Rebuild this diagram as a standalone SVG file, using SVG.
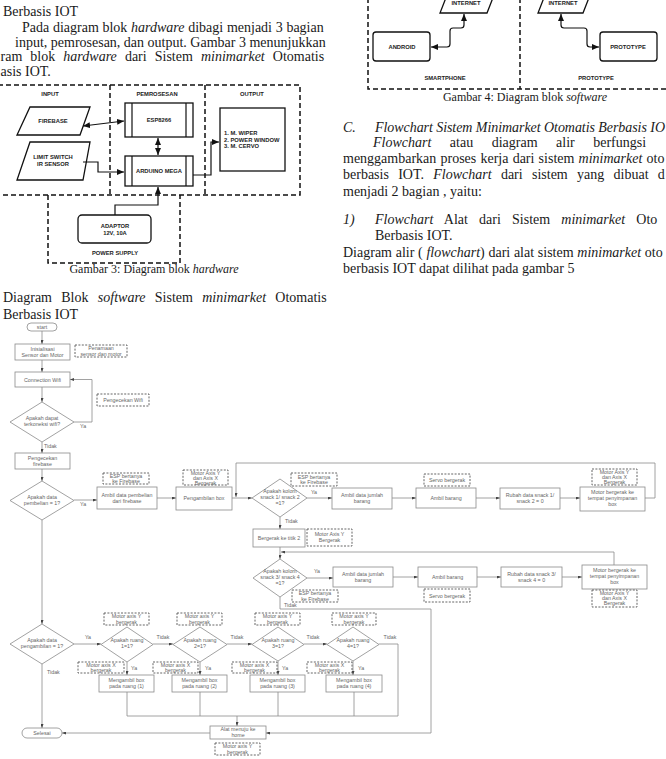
<svg xmlns="http://www.w3.org/2000/svg" width="666" height="759" viewBox="0 0 666 759">
<style>
.p{font-family:"Liberation Serif","Times New Roman",serif;font-size:14px;fill:#1a1a1a}
.i{font-style:italic}
.cap{font-family:"Liberation Serif","Times New Roman",serif;font-size:12px;fill:#1a1a1a;text-anchor:middle}
.hw{font-family:"Liberation Sans",Arial,sans-serif;font-size:5.8px;font-weight:bold;fill:#222;text-anchor:middle}
.hb{fill:#fff;stroke:#111;stroke-width:1.3}
.hd{fill:none;stroke:#111;stroke-width:1.5;stroke-dasharray:5 3}
.hl{fill:none;stroke:#111;stroke-width:1.2}
.ft{font-family:"Liberation Sans",Arial,sans-serif;font-size:5.3px;fill:#666;text-anchor:middle}
.fs{font-family:"Liberation Sans",Arial,sans-serif;font-size:5.3px;fill:#666}
.fb{fill:#fff;stroke:#8a8a8a;stroke-width:0.8}
.fn{fill:#fff;stroke:#555;stroke-width:0.9;stroke-dasharray:2 1.4}
.fl{fill:none;stroke:#8a8a8a;stroke-width:0.8}
</style>
<defs>
<marker id="ha" markerUnits="userSpaceOnUse" markerWidth="7" markerHeight="6" refX="7" refY="3" orient="auto-start-reverse"><path d="M0,0 L7,3 L0,6 z" fill="#111"/></marker>
<marker id="fa" markerUnits="userSpaceOnUse" markerWidth="4" markerHeight="3" refX="4" refY="1.5" orient="auto"><path d="M0,0 L4,1.5 L0,3 z" fill="#444"/></marker>
</defs>
<rect width="666" height="759" fill="#fff"/>

<!-- left column text -->
<g id="text-left">
<text class="p" x="3" y="16">Berbasis IOT</text>
<text class="p" x="22" y="32" word-spacing="0.2">Pada diagram blok <tspan class="i">hardware</tspan> dibagi menjadi 3 bagian</text>
<text class="p" x="15" y="46.5">input, pemrosesan, dan output. Gambar 3 menunjukkan</text>
<text class="p" x="0.5" y="61" word-spacing="4.6">ram blok <tspan class="i">hardware</tspan> dari Sistem <tspan class="i">minimarket</tspan> Otomatis</text>
<text class="p" x="0.5" y="76">asis IOT.</text>
<text class="cap" x="154" y="273">Gambar 3: Diagram blok <tspan class="i">hardware</tspan></text>
<text class="p" x="3" y="302" word-spacing="5.8">Diagram Blok <tspan class="i">software</tspan> Sistem <tspan class="i">minimarket</tspan> Otomatis</text>
<text class="p" x="3" y="319">Berbasis IOT</text>
</g>

<!-- right column text -->
<g id="text-right">
<text class="cap" x="525" y="100.5">Gambar 4: Diagram blok <tspan class="i">software</tspan></text>
<text class="p i" x="343" y="132">C.</text>
<text class="p i" x="375" y="132" textLength="290" lengthAdjust="spacing">Flowchart Sistem Minimarket Otomatis Berbasis IO</text>
<text class="p" x="373" y="147" word-spacing="15"><tspan class="i">Flowchart</tspan> atau diagram alir berfungsi</text>
<text class="p" x="343" y="163" word-spacing="0.7">menggambarkan proses kerja dari sistem <tspan class="i">minimarket</tspan> oto</text>
<text class="p" x="343" y="179" word-spacing="5.8">berbasis IOT. <tspan class="i">Flowchart</tspan> dari sistem yang dibuat d</text>
<text class="p" x="343" y="196">menjadi 2 bagian , yaitu:</text>
<text class="p i" x="343" y="224">1)</text>
<text class="p" x="375" y="224" word-spacing="7.7"><tspan class="i">Flowchart</tspan> Alat dari Sistem <tspan class="i">minimarket</tspan> Oto</text>
<text class="p" x="375" y="240">Berbasis IOT.</text>
<text class="p" x="343" y="257" word-spacing="0.2">Diagram alir ( <tspan class="i">flowchart</tspan>) dari alat sistem <tspan class="i">minimarket</tspan> oto</text>
<text class="p" x="343" y="273">berbasis IOT dapat dilihat pada gambar 5</text>
</g>

<!-- hardware block diagram -->
<g id="hw-frames">
<path class="hd" d="M-2,85 H300 V195 H-2"/>
<path class="hd" d="M110,85 V195"/>
<path class="hd" d="M205,85 V195"/>
<path class="hd" d="M48,195 V263 H180 V195"/>
<text class="hw" x="50" y="96">INPUT</text>
<text class="hw" x="157" y="96">PEMROSESAN</text>
<text class="hw" x="252" y="96">OUTPUT</text>
<text class="hw" x="115" y="255">POWER SUPPLY</text>
</g>
<g id="hw-firebase"><polygon class="hb" points="30,107 90,107 80,135 17,135"/><text class="hw" x="53" y="123">FIREBASE</text></g>
<g id="hw-limit"><polygon class="hb" points="30,142 90,142 83,180 17,180"/><text class="hw" x="53" y="159">LIMIT SWITCH</text><text class="hw" x="53" y="166">IR SENSOR</text></g>
<g id="hw-esp"><rect class="hb" x="125" y="103" width="68" height="34"/><path class="hl" d="M132,103 V137 M186,103 V137"/><text class="hw" x="159" y="122">ESP8266</text></g>
<g id="hw-arduino"><rect class="hb" x="125" y="156" width="68" height="30"/><path class="hl" d="M132,156 V186 M186,156 V186"/><text class="hw" x="159" y="173">ARDUINO MEGA</text></g>
<g id="hw-output"><rect class="hb" x="220" y="108" width="65" height="63"/><text class="hw" style="text-anchor:start" x="224" y="135">1. M. WIPER</text><text class="hw" style="text-anchor:start" x="224" y="141.5">2. POWER WINDOW</text><text class="hw" style="text-anchor:start" x="224" y="148">3. M. CERVO</text></g>
<g id="hw-adaptor"><rect class="hb" x="78" y="215" width="73" height="28" rx="4"/><text class="hw" x="115" y="228">ADAPTOR</text><text class="hw" x="115" y="235">12V, 10A</text></g>
<g id="hw-connectors">
<path class="hl" d="M83,126 L124,121" marker-start="url(#ha)" marker-end="url(#ha)"/>
<path class="hl" d="M158,138 V155" marker-start="url(#ha)" marker-end="url(#ha)"/>
<path class="hl" d="M83,162 H98 V172 H124" marker-end="url(#ha)"/>
<path class="hl" d="M193,175 H211 V142 H219" marker-end="url(#ha)"/>
<path class="hl" d="M115,215 V205 H158 V187" marker-end="url(#ha)"/>
</g>

<!-- software block diagram (top right) -->
<g id="sw-frames">
<path class="hd" d="M368,-2 V89 H668"/>
<path class="hd" d="M520,-2 V89"/>
<text class="hw" x="445" y="80">SMARTPHONE</text>
<text class="hw" x="596" y="80">PROTOTYPE</text>
</g>
<g id="sw-internet1"><polygon class="hb" points="440,13 487,13 496,-10 449,-10"/><text class="hw" x="466" y="5">INTERNET</text></g>
<g id="sw-internet2"><polygon class="hb" points="538,13 583,13 592,-10 547,-10"/><text class="hw" x="563" y="5">INTERNET</text></g>
<g id="sw-android"><rect class="hb" x="373" y="32" width="57" height="29" rx="3"/><text class="hw" x="402" y="49">ANDROID</text></g>
<g id="sw-prototype"><rect class="hb" x="600" y="32" width="57" height="29" rx="3"/><text class="hw" x="628" y="49">PROTOTYPE</text></g>
<g id="sw-connectors">
<path class="hl" d="M464,14 V25 Q464,28 461,28 H453 Q450,28 450,31 V44 Q450,47 447,47 H431" marker-start="url(#ha)" marker-end="url(#ha)"/>
<path class="hl" d="M561,14 V25 Q561,28 564,28 H584 Q587,28 587,31 V44 Q587,47 590,47 H599" marker-start="url(#ha)" marker-end="url(#ha)"/>
</g>

<!-- flowchart connectors -->
<g id="fc-connectors">
<path class="fl" d="M42,331 V344" marker-end="url(#fa)"/>
<path class="fl" d="M42,360 V372" marker-end="url(#fa)"/>
<path class="fl" d="M42,387 V402" marker-end="url(#fa)"/>
<path class="fl" d="M74,422 H92 V379.5 H70" marker-end="url(#fa)"/>
<path class="fl" d="M42,442 V453" marker-end="url(#fa)"/>
<path class="fl" d="M42,469 V481" marker-end="url(#fa)"/>
<path class="fl" d="M74,500 H97" marker-end="url(#fa)"/>
<path class="fl" d="M157,498 H176" marker-end="url(#fa)"/>
<path class="fl" d="M232,498 H252" marker-end="url(#fa)"/>
<path class="fl" d="M645,498 H655 V463 H236 V497" marker-end="url(#fa)"/>
<path class="fl" d="M307,498 H332" marker-end="url(#fa)"/>
<path class="fl" d="M392,498 H416" marker-end="url(#fa)"/>
<path class="fl" d="M476,498 H500" marker-end="url(#fa)"/>
<path class="fl" d="M560,498 H580" marker-end="url(#fa)"/>
<path class="fl" d="M280,517 V529" marker-end="url(#fa)"/>
<path class="fl" d="M280,547 V559" marker-end="url(#fa)"/>
<path class="fl" d="M614,565 V552 H281" marker-end="url(#fa)"/>
<path class="fl" d="M307,578 H333" marker-end="url(#fa)"/>
<path class="fl" d="M393,577 H418" marker-end="url(#fa)"/>
<path class="fl" d="M477,577 H501" marker-end="url(#fa)"/>
<path class="fl" d="M562,577 H582" marker-end="url(#fa)"/>
<path class="fl" d="M280,597 V609 H431 V733 H266" marker-end="url(#fa)"/>
<path class="fl" d="M42,520 V624" marker-end="url(#fa)"/>
<path class="fl" d="M74,644 H101" marker-end="url(#fa)"/>
<path class="fl" d="M153,644 H173" marker-end="url(#fa)"/>
<path class="fl" d="M227,644 H252" marker-end="url(#fa)"/>
<path class="fl" d="M304,644 H327" marker-end="url(#fa)"/>
<path class="fl" d="M379,644 H398 V716"/>
<path class="fl" d="M127,662 V675" marker-end="url(#fa)"/>
<path class="fl" d="M200,662 V675" marker-end="url(#fa)"/>
<path class="fl" d="M278,661 V675" marker-end="url(#fa)"/>
<path class="fl" d="M353,661 V675" marker-end="url(#fa)"/>
<path class="fl" d="M127,692 V716 H398 M200,692 V716 M278,692 V716 M354,692 V716"/>
<path class="fl" d="M237,716 V726" marker-end="url(#fa)"/>
<path class="fl" d="M210,733 H62" marker-end="url(#fa)"/>
<path class="fl" d="M42,664 V728" marker-end="url(#fa)"/>
<text class="fs" x="80" y="428">Ya</text>
<text class="fs" x="44" y="448">Tidak</text>
<text class="fs" x="80" y="506">Ya</text>
<text class="ft" x="314" y="494">Ya</text>
<text class="fs" x="285" y="523">Tidak</text>
<text class="ft" x="317" y="573">Ya</text>
<text class="fs" x="284" y="607">Tidak</text>
<text class="ft" x="88" y="639">Ya</text>
<text class="fs" x="47" y="674">Tidak</text>
<text class="ft" x="163" y="638.5">Tidak</text>
<text class="ft" x="237" y="638.5">Tidak</text>
<text class="ft" x="313" y="638.5">Tidak</text>
<text class="ft" x="390" y="638.5">Tidak</text>
<text class="fs" x="131" y="670">Ya</text>
<text class="fs" x="205" y="670">Ya</text>
<text class="fs" x="282" y="670">Ya</text>
<text class="fs" x="358" y="670">Ya</text>
</g>

<!-- flowchart nodes -->
<g id="fc-start"><rect class="fb" x="27" y="323" width="30" height="8" rx="4"/><text class="ft" x="42" y="329">start</text></g>
<g id="fc-init"><rect class="fb" x="15" y="344" width="55" height="16"/><text class="ft" x="42.5" y="350.5">Inisialisasi</text><text class="ft" x="42.5" y="356.5">Sensor dan Motor</text></g>
<g id="fc-n-penamaan"><rect class="fn" x="75" y="345" width="52" height="12"/><text class="ft" x="101" y="350">Penamaan</text><text class="ft" x="101" y="355.5">sensor dan motor</text></g>
<g id="fc-wifi"><rect class="fb" x="15" y="372" width="55" height="15"/><text class="ft" x="42.5" y="381.5">Connection Wifi</text></g>
<g id="fc-d-wifi"><polygon class="fb" points="42,402 74,422 42,442 10,422"/><text class="ft" x="42" y="420">Apakah dapat</text><text class="ft" x="42" y="426">terkoneksi wifi?</text></g>
<g id="fc-n-wifi"><rect class="fn" x="97" y="394" width="52" height="12"/><text class="ft" x="123" y="402">Pengecekan Wifi</text></g>
<g id="fc-firebase"><rect class="fb" x="15" y="453" width="55" height="16"/><text class="ft" x="42.5" y="459.5">Pengecekan</text><text class="ft" x="42.5" y="465.5">firebase</text></g>
<g id="fc-d-beli"><polygon class="fb" points="42,481 74,500.5 42,520 10,500.5"/><text class="ft" x="42" y="498.5">Apakah data</text><text class="ft" x="42" y="504.5">pembelian = 1?</text></g>
<g id="fc-ambil-beli"><rect class="fb" x="97" y="487" width="60" height="22"/><text class="ft" x="127" y="497">Ambil data pembelian</text><text class="ft" x="127" y="503">dari firebase</text></g>
<g id="fc-n-esp1"><rect class="fn" x="103" y="473" width="46" height="11"/><text class="ft" x="126" y="477.5">ESP bertanya</text><text class="ft" x="126" y="482.5">ke Firebase</text></g>
<g id="fc-pengambilan"><rect class="fb" x="176" y="487" width="56" height="23"/><text class="ft" x="204" y="500">Pengambilan box</text></g>
<g id="fc-n-axis1"><rect class="fn" x="183" y="470" width="45" height="15"/><text class="ft" x="205.5" y="474.5">Motor Axis Y</text><text class="ft" x="205.5" y="479.5">dan Axis X</text><text class="ft" x="205.5" y="484.5">Bergerak</text></g>
<g id="fc-d-kolom12"><polygon class="fb" points="280,479 307,498 280,517 252,498"/><text class="ft" x="280" y="493">Apakah kolom</text><text class="ft" x="280" y="499">snack 1/ snack 2</text><text class="ft" x="280" y="505">=1?</text></g>
<g id="fc-n-esp2"><rect class="fn" x="291" y="473" width="46" height="13"/><text class="ft" x="314" y="478.5">ESP bertanya</text><text class="ft" x="314" y="484">ke Firebase</text></g>
<g id="fc-jumlah1"><rect class="fb" x="332" y="488" width="60" height="21"/><text class="ft" x="362" y="497">Ambil data jumlah</text><text class="ft" x="362" y="503">barang</text></g>
<g id="fc-barang1"><rect class="fb" x="416" y="488" width="60" height="20"/><text class="ft" x="446" y="500">Ambil barang</text></g>
<g id="fc-n-servo1"><rect class="fn" x="424" y="474" width="46" height="12"/><text class="ft" x="447" y="481.5">Servo bergerak</text></g>
<g id="fc-rubah1"><rect class="fb" x="500" y="488" width="60" height="21"/><text class="ft" x="530" y="497">Rubah data snack 1/</text><text class="ft" x="530" y="503">snack 2 = 0</text></g>
<g id="fc-motor1"><rect class="fb" x="580" y="487" width="65" height="24"/><text class="ft" x="612.5" y="494">Motor bergerak ke</text><text class="ft" x="612.5" y="500">tempat penyimpanan</text><text class="ft" x="612.5" y="506">box</text></g>
<g id="fc-n-axis2"><rect class="fn" x="592" y="469" width="45" height="16"/><text class="ft" x="614.5" y="473.5">Motor Axis Y</text><text class="ft" x="614.5" y="478.5">dan Axis X</text><text class="ft" x="614.5" y="483.5">Bergerak</text></g>
<g id="fc-titik2"><rect class="fb" x="253" y="529" width="52" height="18"/><text class="ft" x="279" y="540">Bergerak ke titik 2</text></g>
<g id="fc-n-axisy1"><rect class="fn" x="307" y="529" width="45" height="17"/><text class="ft" x="329.5" y="535.5">Motor Axis Y</text><text class="ft" x="329.5" y="541.5">Bergerak</text></g>
<g id="fc-d-kolom34"><polygon class="fb" points="280,559 307,578 280,597 253,578"/><text class="ft" x="280" y="573">Apakah kolom</text><text class="ft" x="280" y="579">snack 3/ snack 4</text><text class="ft" x="280" y="585">=1?</text></g>
<g id="fc-jumlah2"><rect class="fb" x="333" y="567" width="60" height="20"/><text class="ft" x="363" y="576">Ambil data jumlah</text><text class="ft" x="363" y="582">barang</text></g>
<g id="fc-n-esp3"><rect class="fn" x="292" y="590" width="46" height="12"/><text class="ft" x="315" y="595">ESP bertanya</text><text class="ft" x="315" y="600.5">ke Firebase</text></g>
<g id="fc-barang2"><rect class="fb" x="418" y="567" width="59" height="20"/><text class="ft" x="447.5" y="579">Ambil barang</text></g>
<g id="fc-n-servo2"><rect class="fn" x="424" y="589" width="46" height="13"/><text class="ft" x="447" y="597.5">Servo bergerak</text></g>
<g id="fc-rubah2"><rect class="fb" x="501" y="567" width="61" height="20"/><text class="ft" x="531.5" y="575.5">Rubah data snack 3/</text><text class="ft" x="531.5" y="581.5">snack 4 = 0</text></g>
<g id="fc-motor2"><rect class="fb" x="582" y="565" width="65" height="24"/><text class="ft" x="614.5" y="572">Motor bergerak ke</text><text class="ft" x="614.5" y="578">tempat penyimpanan</text><text class="ft" x="614.5" y="584">box</text></g>
<g id="fc-n-axis3"><rect class="fn" x="592" y="590" width="45" height="17"/><text class="ft" x="614.5" y="595">Motor Axis Y</text><text class="ft" x="614.5" y="600">dan Axis X</text><text class="ft" x="614.5" y="605">Bergerak</text></g>
<g id="fc-d-ambil"><polygon class="fb" points="42,624 74,644 42,664 10,644"/><text class="ft" x="42" y="642">Apakah data</text><text class="ft" x="42" y="648">pengambilan = 1?</text></g>
<g id="fc-d-r1"><polygon class="fb" points="127,627 153,644.5 127,662 101,644.5"/><text class="ft" x="127" y="642">Apakah ruang</text><text class="ft" x="127" y="648">1=1?</text></g>
<g id="fc-d-r2"><polygon class="fb" points="200,627 227,644.5 200,662 173,644.5"/><text class="ft" x="200" y="642">Apakah ruang</text><text class="ft" x="200" y="648">2=1?</text></g>
<g id="fc-d-r3"><polygon class="fb" points="278,627 304,644.5 278,661 252,644.5"/><text class="ft" x="278" y="642">Apakah ruang</text><text class="ft" x="278" y="648">3=1?</text></g>
<g id="fc-d-r4"><polygon class="fb" points="353,627 379,644.5 353,661 327,644.5"/><text class="ft" x="353" y="642">Apakah ruang</text><text class="ft" x="353" y="648">4=1?</text></g>
<g id="fc-n-y1"><rect class="fn" x="104" y="613" width="45" height="12"/><text class="ft" x="126.5" y="618">Motor axis Y</text><text class="ft" x="126.5" y="623.5">bergerak</text></g>
<g id="fc-n-y2"><rect class="fn" x="177" y="613" width="45" height="12"/><text class="ft" x="199.5" y="618">Motor axis Y</text><text class="ft" x="199.5" y="623.5">bergerak</text></g>
<g id="fc-n-y3"><rect class="fn" x="255" y="613" width="45" height="12"/><text class="ft" x="277.5" y="618">Motor axis Y</text><text class="ft" x="277.5" y="623.5">bergerak</text></g>
<g id="fc-n-y4"><rect class="fn" x="332" y="613" width="44" height="12"/><text class="ft" x="354" y="618">Motor axis Y</text><text class="ft" x="354" y="623.5">bergerak</text></g>
<g id="fc-r1"><rect class="fb" x="99" y="675" width="55" height="17"/><text class="ft" x="126.5" y="682">Mengambil box</text><text class="ft" x="126.5" y="688">pada ruang (1)</text></g>
<g id="fc-r2"><rect class="fb" x="172" y="675" width="55" height="17"/><text class="ft" x="199.5" y="682">Mengambil box</text><text class="ft" x="199.5" y="688">pada ruang (2)</text></g>
<g id="fc-r3"><rect class="fb" x="250" y="675" width="55" height="17"/><text class="ft" x="277.5" y="682">Mengambil box</text><text class="ft" x="277.5" y="688">pada ruang (3)</text></g>
<g id="fc-r4"><rect class="fb" x="326" y="675" width="56" height="17"/><text class="ft" x="354" y="682">Mengambil box</text><text class="ft" x="354" y="688">pada ruang (4)</text></g>
<g id="fc-n-x1"><rect class="fn" x="78" y="662" width="46" height="11"/><text class="ft" x="101" y="666.5">Motor axis X</text><text class="ft" x="101" y="671.5">bergerak</text></g>
<g id="fc-n-x2"><rect class="fn" x="153" y="662" width="45" height="11"/><text class="ft" x="175.5" y="666.5">Motor axis X</text><text class="ft" x="175.5" y="671.5">bergerak</text></g>
<g id="fc-n-x3"><rect class="fn" x="232" y="662" width="45" height="11"/><text class="ft" x="254.5" y="666.5">Motor axis X</text><text class="ft" x="254.5" y="671.5">bergerak</text></g>
<g id="fc-n-x4"><rect class="fn" x="307" y="662" width="45" height="11"/><text class="ft" x="329.5" y="666.5">Motor axis X</text><text class="ft" x="329.5" y="671.5">bergerak</text></g>
<g id="fc-home"><rect class="fb" x="210" y="726" width="56" height="13"/><text class="ft" x="238" y="731">Alat menuju ke</text><text class="ft" x="238" y="737">home</text></g>
<g id="fc-n-yhome"><rect class="fn" x="215" y="743" width="45" height="12"/><text class="ft" x="237.5" y="748">Motor axis Y</text><text class="ft" x="237.5" y="753.5">bergerak</text></g>
<g id="fc-selesai"><rect class="fb" x="22" y="728" width="40" height="10" rx="5"/><text class="ft" x="42" y="735">Selesai</text></g>
</svg>
